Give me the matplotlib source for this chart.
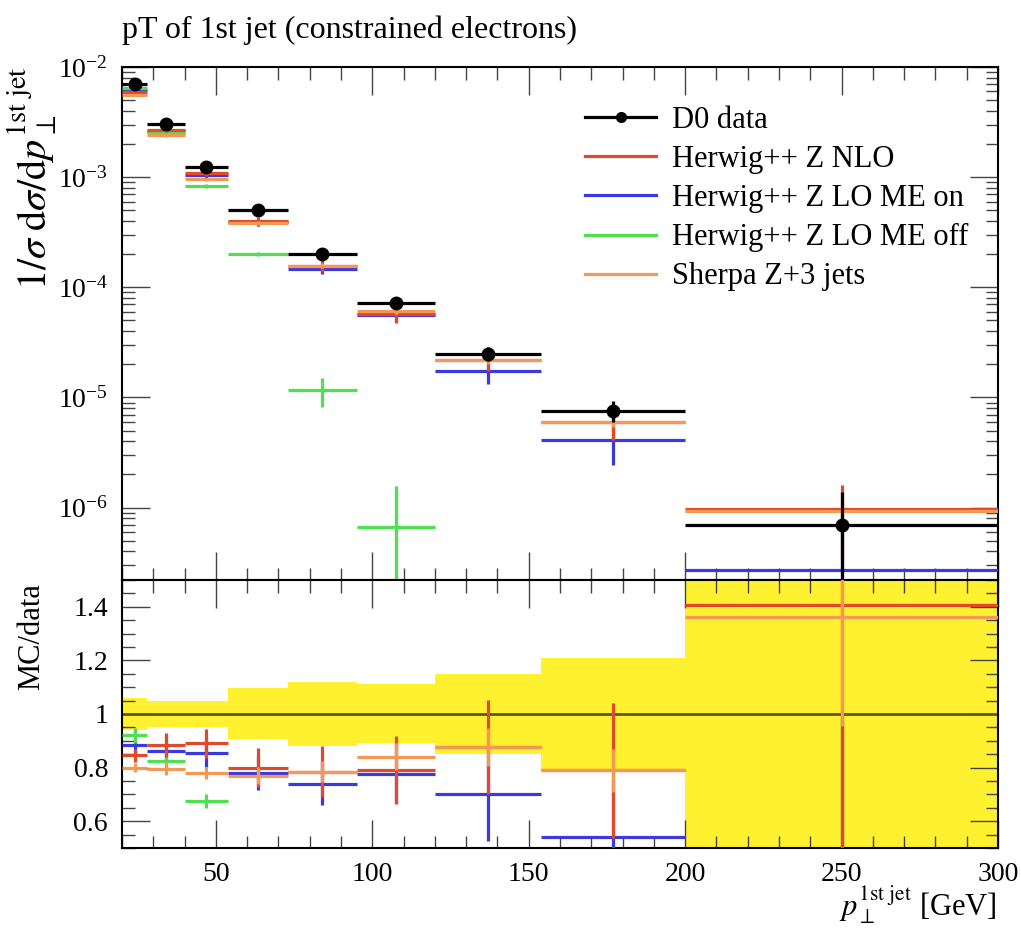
import numpy as np
import matplotlib
matplotlib.use("Agg")
import matplotlib.pyplot as plt
from matplotlib.lines import Line2D
from matplotlib.ticker import LogLocator, MultipleLocator, NullFormatter, FuncFormatter

plt.rcParams['font.family'] = ['Liberation Serif', 'DejaVu Serif']
plt.rcParams['mathtext.fontset'] = 'stix'

# bin edges of leading jet pT [GeV]
edges = np.array([20, 28, 40, 54, 73, 95, 120, 154, 200, 300])

# D0 data and relative uncertainty
data = np.array([7.0e-3, 3.03e-3, 1.23e-3, 5.0e-4, 2.0e-4, 7.2e-5, 2.5e-5, 7.6e-6, 6.9e-7])
data_relerr = np.array([0.06, 0.05, 0.05, 0.095, 0.12, 0.11, 0.15, 0.21, 1.0])

# MC predictions and relative uncertainties
nlo = np.array([5.92e-3, 2.68e-3, 1.095e-3, 4.0e-4, 1.57e-4, 5.7e-5, 2.19e-5, 6.0e-6, 9.7e-7])
nlo_relerr = np.array([0.03, 0.05, 0.06, 0.09, 0.12, 0.16, 0.2, 0.32, 0.65])
lo_on = np.array([6.19e-3, 2.61e-3, 1.05e-3, 3.9e-4, 1.48e-4, 5.6e-5, 1.75e-5, 4.1e-6, 2.7e-7])
lo_on_relerr = np.array([0.03, 0.05, 0.06, 0.08, 0.11, 0.14, 0.25, 0.4, 1.5])
lo_off = np.array([6.44e-3, 2.5e-3, 8.3e-4, 2.0e-4, 1.16e-5, 6.6e-7, np.nan, np.nan, np.nan])
lo_off_relerr = np.array([0.03, 0.04, 0.04, 0.04, 0.3, 1.4, 0.0, 0.0, 0.0])
sherpa = np.array([5.6e-3, 2.41e-3, 9.6e-4, 3.85e-4, 1.57e-4, 6.05e-5, 2.19e-5, 6.0e-6, 9.4e-7])
sherpa_relerr = np.array([0.02, 0.03, 0.03, 0.04, 0.05, 0.06, 0.08, 0.1, 0.3])

centers = 0.5 * (edges[:-1] + edges[1:])
halfw = 0.5 * (edges[1:] - edges[:-1])

mc = [
    ("Herwig++ Z NLO", nlo, nlo_relerr, "#e04a2a", 4),
    ("Herwig++ Z LO ME on", lo_on, lo_on_relerr, "#3a3ae0", 3),
    ("Herwig++ Z LO ME off", lo_off, lo_off_relerr, "#4ee04e", 3),
    ("Sherpa Z+3 jets", sherpa, sherpa_relerr, "#f29a55", 5),
]

fig = plt.figure(figsize=(10.21, 9.30), dpi=100)
ax = fig.add_axes([0.1195, 0.3763, 0.858, 0.5516])
rax = fig.add_axes([0.1195, 0.0882, 0.858, 0.2882], sharex=ax)

lw = 2.3
# main panel
ax.errorbar(centers, data, xerr=halfw,
            yerr=[np.minimum(data * data_relerr, data * 0.999), data * data_relerr],
            fmt='o', color='black', ms=9, elinewidth=lw, capsize=0, zorder=6)
handles = [Line2D([], [], color='black', lw=lw, marker='o', ms=7, label="D0 data")]
for name, y, rel, col, z in mc:
    err = y * rel
    lo = np.minimum(err, y * 0.999)
    ax.errorbar(centers, y, xerr=halfw, yerr=[lo, err], fmt='none',
                ecolor=col, elinewidth=lw, capsize=0, zorder=z)
    handles.append(Line2D([], [], color=col, lw=lw, label=name))

ax.set_yscale('log')
ax.set_xlim(20, 300)
ax.set_ylim(2.2e-7, 1e-2)
ax.yaxis.set_major_locator(LogLocator(base=10, numticks=20))
ax.yaxis.set_minor_locator(LogLocator(base=10, subs=np.arange(2, 10), numticks=50))
ax.yaxis.set_minor_formatter(NullFormatter())
ax.tick_params(axis='x', labelbottom=False)

ax.legend(handles=handles, loc='upper left', bbox_to_anchor=(0.515, 0.948),
          frameon=False, fontsize=22, handlelength=2.3, handletextpad=0.55,
          labelspacing=0.33, borderaxespad=0)

# ratio panel
rax.stairs(1 + data_relerr, edges, baseline=1 - data_relerr, fill=True,
           color='#fff030', zorder=1)
rax.axhline(1.0, color='#5a5a20', lw=2, zorder=2)
for name, y, rel, col, z in mc:
    r = y / data
    rax.errorbar(centers, r, xerr=halfw, yerr=r * rel, fmt='none',
                 ecolor=col, elinewidth=lw, capsize=0, zorder=z)

rax.set_ylim(0.5, 1.5)
rax.yaxis.set_major_locator(MultipleLocator(0.2))
rax.yaxis.set_minor_locator(MultipleLocator(0.05))
rax.yaxis.set_major_formatter(FuncFormatter(lambda v, p: "%g" % round(v, 2)))
rax.xaxis.set_major_locator(MultipleLocator(50))
rax.xaxis.set_minor_locator(MultipleLocator(10))

for a in (ax, rax):
    a.tick_params(which='both', direction='in', top=True, right=True,
                  labelsize=20, width=1.0, color='#444444')
    a.tick_params(which='major', length=20, pad=10)
    a.tick_params(which='minor', length=9)
    for s in a.spines.values():
        s.set_linewidth(1.5)

fig.text(0.1195, 0.959, "pT of 1st jet (constrained electrons)", fontsize=23,
         ha='left', va='baseline')
fig.text(0.031, 1 - 66 / 930,
         r"$1/\sigma\;\mathrm{d}\sigma/\mathrm{d}p_\perp^{\mathrm{1st\ jet}}$",
         fontsize=29, rotation=90, ha='center', va='top')
fig.text(0.031, 1 - 583 / 930, "MC/data", fontsize=22, rotation=90,
         ha='center', va='top')
fig.text(0.976, 0.004, r"$p_\perp^{\mathrm{1st\ jet}}$ [GeV]", fontsize=22,
         ha='right', va='bottom')

fig.savefig("out.png", dpi=100)
